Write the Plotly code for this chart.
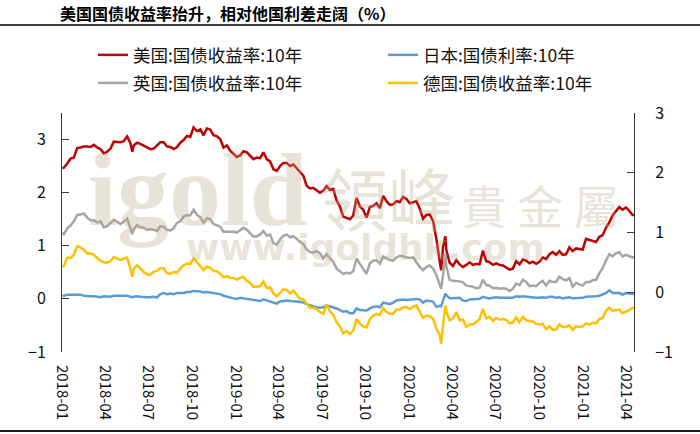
import pandas as pd
import plotly.graph_objects as go

# ---------------- data (weekly Friday readings + a few extra daily readings) ----------------
weekly_dates = pd.date_range("2018-01-05", "2021-04-16", freq="W-FRI")
extra_dates = ["2018-01-02", "2018-05-29", "2020-03-09", "2020-03-18", "2021-04-19"]

us_weekly = [
    # 2018
    2.47, 2.55, 2.64, 2.66, 2.84, 2.85, 2.87, 2.87, 2.86, 2.90, 2.85, 2.82, 2.74,
    2.77, 2.83, 2.96, 2.96, 2.95, 2.97, 3.06, 2.93, 2.89, 2.94, 2.92, 2.89, 2.85,
    2.82, 2.83, 2.89, 2.95, 2.95, 2.87, 2.86, 2.82, 2.86, 2.94, 2.99, 3.07, 3.05,
    3.23, 3.16, 3.19, 3.08, 3.21, 3.19, 3.08, 3.06, 3.01, 2.85, 2.89, 2.79, 2.72,
    # 2019
    2.67, 2.70, 2.78, 2.76, 2.69, 2.63, 2.66, 2.65, 2.76, 2.63, 2.59, 2.44, 2.41,
    2.50, 2.56, 2.56, 2.50, 2.53, 2.46, 2.39, 2.32, 2.13, 2.08, 2.09, 2.05, 2.00,
    2.04, 2.12, 2.05, 2.07, 1.85, 1.74, 1.55, 1.52, 1.50, 1.57, 1.90, 1.74, 1.68,
    1.53, 1.73, 1.75, 1.80, 1.71, 1.94, 1.84, 1.77, 1.78, 1.84, 1.82, 1.92, 1.88,
    # 2020
    1.80, 1.82, 1.84, 1.70, 1.51, 1.58, 1.59, 1.47, 1.13, 0.71, 0.98, 0.92, 0.68,
    0.62, 0.73, 0.65, 0.60, 0.64, 0.69, 0.64, 0.66, 0.65, 0.91, 0.71, 0.69, 0.64,
    0.67, 0.64, 0.63, 0.59, 0.55, 0.57, 0.71, 0.65, 0.74, 0.72, 0.67, 0.70, 0.66,
    0.70, 0.78, 0.75, 0.84, 0.88, 0.83, 0.90, 0.83, 0.84, 0.97, 0.90, 0.95, 0.94,
    # 2021
    0.93, 1.13, 1.11, 1.10, 1.07, 1.17, 1.20, 1.34, 1.44, 1.57, 1.64, 1.73, 1.68,
    1.72, 1.66, 1.58,
]
us_extra = [2.46, 2.77, 0.54, 1.18, 1.58]

uk_weekly = [
    # 2018
    1.22, 1.33, 1.38, 1.46, 1.58, 1.59, 1.61, 1.53, 1.48, 1.48, 1.44, 1.46, 1.35,
    1.37, 1.43, 1.49, 1.45, 1.41, 1.45, 1.51, 1.33, 1.31, 1.39, 1.35, 1.34, 1.30,
    1.31, 1.30, 1.28, 1.37, 1.36, 1.30, 1.29, 1.33, 1.43, 1.46, 1.55, 1.58, 1.57,
    1.68, 1.58, 1.54, 1.43, 1.52, 1.50, 1.41, 1.39, 1.36, 1.26, 1.27, 1.26, 1.27,
    # 2019
    1.25, 1.29, 1.34, 1.30, 1.24, 1.17, 1.18, 1.21, 1.28, 1.19, 1.21, 1.05, 1.02,
    1.12, 1.19, 1.21, 1.16, 1.18, 1.13, 1.07, 1.03, 0.93, 0.88, 0.87, 0.90, 0.86,
    0.76, 0.84, 0.76, 0.70, 0.57, 0.52, 0.47, 0.49, 0.48, 0.52, 0.76, 0.66, 0.56,
    0.47, 0.67, 0.72, 0.73, 0.66, 0.80, 0.76, 0.73, 0.72, 0.78, 0.81, 0.80, 0.79,
    # 2020
    0.77, 0.78, 0.68, 0.60, 0.54, 0.60, 0.63, 0.57, 0.45, 0.24, 0.45, 0.62, 0.36,
    0.34, 0.34, 0.33, 0.31, 0.25, 0.24, 0.23, 0.20, 0.21, 0.36, 0.26, 0.25, 0.20,
    0.21, 0.19, 0.20, 0.19, 0.15, 0.19, 0.29, 0.26, 0.36, 0.32, 0.24, 0.25, 0.24,
    0.30, 0.34, 0.25, 0.34, 0.32, 0.32, 0.42, 0.37, 0.35, 0.39, 0.23, 0.30, 0.28,
    # 2021
    0.25, 0.32, 0.32, 0.35, 0.36, 0.48, 0.58, 0.72, 0.84, 0.80, 0.86, 0.88, 0.80,
    0.83, 0.80, 0.78,
]
uk_extra = [1.25, 1.22, 0.19, 0.85, 0.80]

jp_weekly = [
    # 2018
    0.06, 0.08, 0.08, 0.08, 0.09, 0.08, 0.06, 0.05, 0.05, 0.05, 0.04, 0.03, 0.05,
    0.05, 0.04, 0.06, 0.06, 0.05, 0.05, 0.06, 0.04, 0.04, 0.05, 0.04, 0.03, 0.03,
    0.03, 0.04, 0.03, 0.09, 0.11, 0.09, 0.10, 0.09, 0.11, 0.11, 0.11, 0.13, 0.13,
    0.15, 0.15, 0.14, 0.12, 0.13, 0.12, 0.11, 0.10, 0.09, 0.06, 0.04, 0.03, 0.01,
    # 2019
    0.00, 0.02, 0.01, 0.00, -0.02, -0.03, -0.03, -0.04, -0.01, -0.03, -0.04, -0.07, -0.09,
    -0.05, -0.04, -0.03, -0.04, -0.04, -0.05, -0.06, -0.07, -0.10, -0.12, -0.13, -0.16, -0.16,
    -0.16, -0.12, -0.14, -0.15, -0.18, -0.21, -0.24, -0.23, -0.27, -0.27, -0.18, -0.21, -0.21,
    -0.22, -0.18, -0.15, -0.14, -0.16, -0.07, -0.09, -0.10, -0.07, -0.03, -0.02, -0.01, -0.02,
    # 2020
    -0.01, 0.00, 0.00, -0.01, -0.07, -0.03, -0.04, -0.05, -0.15, -0.13, -0.01, 0.07, 0.01,
    0.01, 0.01, 0.02, -0.03, -0.04, -0.01, 0.00, 0.00, 0.00, 0.04, 0.02, 0.01, 0.02,
    0.03, 0.02, 0.02, 0.02, 0.02, 0.02, 0.05, 0.04, 0.05, 0.04, 0.03, 0.02, 0.02,
    0.02, 0.03, 0.02, 0.04, 0.04, 0.02, 0.03, 0.01, 0.02, 0.03, 0.01, 0.01, 0.01,
    # 2021
    0.02, 0.04, 0.04, 0.04, 0.05, 0.06, 0.08, 0.11, 0.16, 0.11, 0.11, 0.11, 0.08,
    0.11, 0.10, 0.09,
]
jp_extra = [0.05, 0.03, -0.14, 0.10, 0.09]

de_weekly = [
    # 2018
    0.44, 0.58, 0.57, 0.63, 0.77, 0.75, 0.71, 0.65, 0.65, 0.63, 0.57, 0.53, 0.50,
    0.50, 0.52, 0.59, 0.57, 0.54, 0.56, 0.58, 0.40, 0.39, 0.45, 0.40, 0.34, 0.30,
    0.29, 0.34, 0.36, 0.40, 0.40, 0.32, 0.31, 0.34, 0.33, 0.40, 0.45, 0.48, 0.47,
    0.57, 0.50, 0.44, 0.37, 0.43, 0.41, 0.36, 0.35, 0.31, 0.25, 0.27, 0.24, 0.24,
    # 2019
    0.21, 0.24, 0.26, 0.19, 0.16, 0.09, 0.10, 0.10, 0.18, 0.07, 0.08, -0.02, -0.07,
    0.00, 0.05, 0.04, -0.02, 0.03, -0.05, -0.11, -0.12, -0.20, -0.26, -0.26, -0.28, -0.33,
    -0.36, -0.21, -0.32, -0.38, -0.50, -0.57, -0.69, -0.65, -0.70, -0.64, -0.45, -0.52, -0.57,
    -0.59, -0.45, -0.39, -0.36, -0.38, -0.26, -0.33, -0.36, -0.36, -0.29, -0.29, -0.25, -0.25,
    # 2020
    -0.28, -0.24, -0.22, -0.33, -0.43, -0.39, -0.40, -0.44, -0.61, -0.71, -0.55, -0.32, -0.47,
    -0.44, -0.33, -0.47, -0.46, -0.58, -0.54, -0.54, -0.49, -0.45, -0.28, -0.44, -0.41, -0.48,
    -0.43, -0.46, -0.45, -0.46, -0.52, -0.51, -0.42, -0.50, -0.41, -0.47, -0.48, -0.49, -0.53,
    -0.54, -0.53, -0.62, -0.57, -0.63, -0.62, -0.54, -0.58, -0.58, -0.55, -0.63, -0.57, -0.58,
    # 2021
    -0.57, -0.52, -0.54, -0.51, -0.52, -0.45, -0.43, -0.31, -0.26, -0.31, -0.30, -0.29, -0.35,
    -0.33, -0.30, -0.26,
]
de_extra = [0.43, 0.26, -0.86, -0.22, -0.27]

names = ["美国:国债收益率:10年", "日本:国债利率:10年", "英国:国债收益率:10年", "德国:国债收益率:10年"]
colors = ["#C00000", "#5B9BD5", "#A5A5A5", "#FFC000"]

tick_dates = ["2018-01-01", "2018-04-01", "2018-07-01", "2018-10-01", "2019-01-01",
              "2019-04-01", "2019-07-01", "2019-10-01", "2020-01-01", "2020-04-01",
              "2020-07-01", "2020-10-01", "2021-01-01", "2021-04-01"]
tick_text = ["2018-01", "2018-04", "2018-07", "2018-10", "2019-01", "2019-04", "2019-07",
             "2019-10", "2020-01", "2020-04", "2020-07", "2020-10", "2021-01", "2021-04"]

title_text = "美国国债收益率抬升，相对他国利差走阔（%）"

# ---------------- build ----------------
def make_series(weekly, extra):
    assert len(weekly) == len(weekly_dates), (len(weekly), len(weekly_dates))
    idx = list(weekly_dates) + list(pd.to_datetime(extra_dates))
    return pd.Series(list(weekly) + list(extra), index=idx).sort_index()

us = make_series(us_weekly, us_extra)
jp = make_series(jp_weekly, jp_extra)
uk = make_series(uk_weekly, uk_extra)
de = make_series(de_weekly, de_extra)

FONT = "Noto Sans CJK SC, sans-serif"
AX = "#3a3a3a"

L, R, T, B = 62, 66, 113, 82
W, H = 700, 434
pw, ph = W - L - R, H - T - B

def px(x):
    return (x - L) / pw

def py(y):
    return (H - B - y) / ph

fig = go.Figure()
specs = [(us, 0, "y", "legend"), (jp, 1, "y", "legend2"), (uk, 2, "y", "legend3"), (de, 3, "y2", "legend4")]
for s, i, yax, lg in specs:
    fig.add_trace(go.Scatter(x=s.index, y=s.values, mode="lines", name=names[i],
                             line=dict(color=colors[i], width=2.5), yaxis=yax, legend=lg))

x_range = ["2018-01-01", "2021-04-19"]

def leg(xp, yp):
    return dict(orientation="h", x=px(xp), xanchor="left", y=py(yp), yanchor="middle",
                font=dict(size=17.5, color="#111"), bgcolor="rgba(0,0,0,0)")

fig.update_layout(
    width=W, height=H, margin=dict(l=L, r=R, t=T, b=B),
    paper_bgcolor="white", plot_bgcolor="white",
    font=dict(family=FONT, size=15, color="#111"),
    xaxis=dict(range=x_range, tickmode="array", tickvals=tick_dates, ticktext=tick_text,
               tickangle=90, ticks="", showline=False, showgrid=False, zeroline=False,
               tickfont=dict(size=15, color="#111"), ticklabelstandoff=12),
    xaxis2=dict(range=x_range, overlaying="x", anchor="free", position=1 / 4.5,
                tickmode="array", tickvals=tick_dates, showticklabels=False,
                ticks="outside", ticklen=5, tickcolor=AX, showline=True, linecolor=AX,
                linewidth=1, showgrid=False, zeroline=False),
    yaxis=dict(range=[-1, 3.5], dtick=1, tick0=0, ticks="inside", ticklen=7, tickcolor=AX,
               showline=True, linecolor=AX, linewidth=1, showgrid=False, zeroline=False,
               tickfont=dict(size=16, color="#111"), ticklabelstandoff=12),
    yaxis2=dict(range=[-1, 3], dtick=1, tick0=0, overlaying="y", side="right", anchor="x",
                ticks="inside", ticklen=7, tickcolor=AX, showline=True, linecolor=AX,
                linewidth=1, showgrid=False, zeroline=False,
                tickfont=dict(size=16, color="#111"), ticklabelstandoff=17),
    legend=leg(93, 55),
    legend2=leg(383, 55),
    legend3=leg(93, 83),
    legend4=leg(383, 83),
    showlegend=True,
)

wm = "rgba(185,170,135,0.33)"
annos = [
    dict(text="igold", x=px(198), y=py(190), font=dict(family="Liberation Serif", size=104, color=wm, weight="bold")),
    dict(text="領峰", x=px(388), y=py(196), font=dict(family="Noto Sans CJK TC", size=68, color=wm)),
    dict(text="貴 金 屬", x=px(540), y=py(204), font=dict(family="Noto Sans CJK TC", size=46, color=wm)),
    dict(text="www.igoldhk.com", x=px(365), y=py(247), font=dict(family="DejaVu Sans", size=36, color=wm, weight="bold")),
]
for a in annos:
    fig.add_annotation(xref="paper", yref="paper", showarrow=False, xanchor="center", yanchor="middle", **a)

fig.add_annotation(xref="paper", yref="paper", x=px(58), y=py(13), xanchor="left", yanchor="middle",
                   showarrow=False, text=title_text,
                   font=dict(family=FONT, size=16, color="#000", weight="bold"))

fig.add_shape(type="line", xref="paper", yref="paper", x0=px(0), x1=px(700), y0=py(25), y1=py(25),
              line=dict(color="#000", width=1.5))
fig.add_shape(type="line", xref="paper", yref="paper", x0=px(0), x1=px(700), y0=py(431), y1=py(431),
              line=dict(color="#222", width=2))

fig.write_html("out.html")
